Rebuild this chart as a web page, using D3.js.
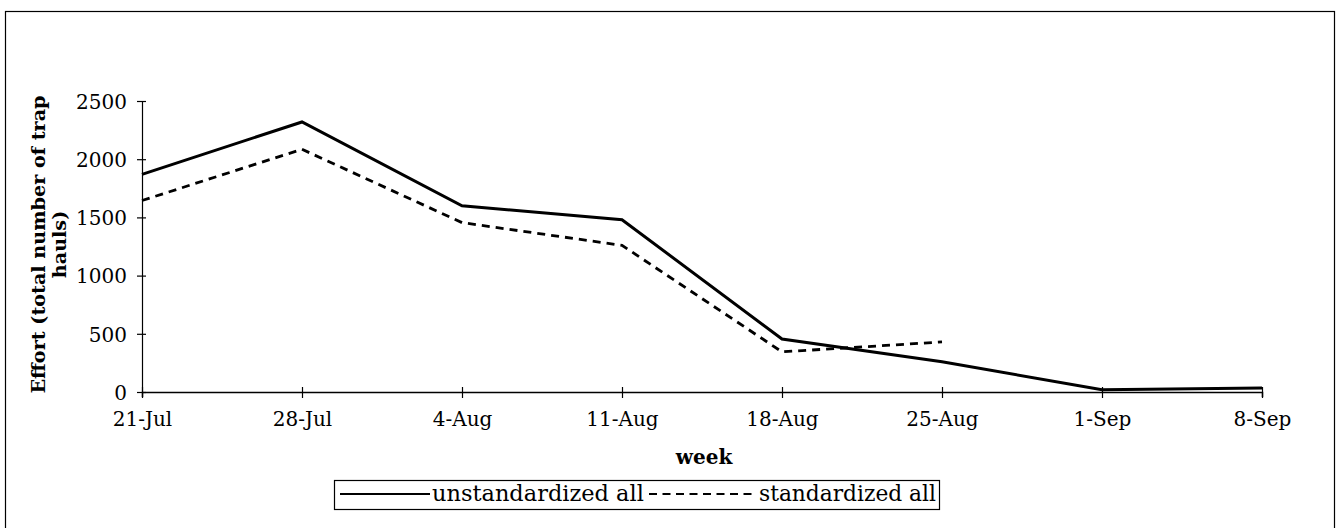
<!DOCTYPE html>
<html>
<head>
<meta charset="utf-8">
<script src="https://cdn.jsdelivr.net/npm/d3@7"></script>
<style>
  html, body { margin: 0; padding: 0; background: #fff; }
  svg { display: block; }
  text { font-family: "DejaVu Serif", "Liberation Serif", serif; fill: #000; }
</style>
</head>
<body>
<svg id="chart" width="1340" height="528"></svg>
<script>
const weeks = ["21-Jul", "28-Jul", "4-Aug", "11-Aug", "18-Aug", "25-Aug", "1-Sep", "8-Sep"];
const unstandardized = [1870, 2320, 1600, 1480, 455, 260, 20, 35];
const standardized = [1645, 2085, 1455, 1260, 345, 430, null, null];
const yTicks = [0, 500, 1000, 1500, 2000, 2500];
const seriesNames = ["unstandardized all", "standardized all"];

const svg = d3.select("#chart");
const mLeft = 142, mRight = 1262, mTop = 101, mBottom = 392;
const FONT = "DejaVu Serif, Liberation Serif, serif";

function fitWidth(sel, target) {
  const len = sel.node().getComputedTextLength();
  const fs = parseFloat(sel.attr("font-size"));
  if (len > 0) sel.attr("font-size", (fs * target / len).toFixed(2));
}

// outer frame
svg.append("rect").attr("x", 5.5).attr("y", 11.5).attr("width", 1329).attr("height", 530)
  .attr("fill", "none").attr("stroke", "#000").attr("stroke-width", 1.2);

const x = d3.scalePoint().domain(weeks).range([mLeft, mRight]);
const y = d3.scaleLinear().domain([0, 2500]).range([mBottom, mTop]);

// y axis
const gy = svg.append("g").attr("transform", `translate(${mLeft},0)`)
  .call(d3.axisLeft(y).tickValues(yTicks).tickFormat(d3.format("d")).tickSize(5).tickPadding(10));
gy.select(".domain").attr("stroke", "#000").attr("stroke-width", 1.2);
gy.selectAll(".tick line").attr("x1", -5).attr("x2", 4).attr("stroke-width", 1.2);
gy.selectAll(".tick text").attr("font-size", 20).attr("dy", "0.36em")
  .style("font-family", FONT);

// x axis
const gx = svg.append("g").attr("transform", `translate(0,${mBottom})`)
  .call(d3.axisBottom(x).tickSize(5).tickPadding(15));
gx.select(".domain").attr("stroke", "#000").attr("stroke-width", 1.5);
gx.selectAll(".tick line").attr("y1", -5).attr("y2", 6).attr("stroke-width", 1.2);
gx.selectAll(".tick text").attr("font-size", 20)
  .style("font-family", FONT);

// lines
const line = d3.line()
  .defined(d => d[1] !== null)
  .x(d => x(d[0])).y(d => y(d[1]));

svg.append("path")
  .datum(weeks.map((w, i) => [w, unstandardized[i]]))
  .attr("d", line).attr("fill", "none").attr("stroke", "#000")
  .attr("stroke-width", 3).attr("stroke-linejoin", "miter");

svg.append("path")
  .datum(weeks.map((w, i) => [w, standardized[i]]))
  .attr("d", line).attr("fill", "none").attr("stroke", "#000")
  .attr("stroke-width", 2.8).attr("stroke-dasharray", "8,6");

// axis titles
svg.append("text").attr("x", (mLeft + mRight) / 2 + 2).attr("y", 464)
  .attr("text-anchor", "middle").attr("font-size", 20).attr("font-weight", "bold")
  .text("week");

const yt = svg.append("text").attr("transform", `translate(45,${(mTop + mBottom) / 2 - 2}) rotate(-90)`)
  .attr("text-anchor", "middle").attr("font-size", 20).attr("font-weight", "bold");
const yt1 = yt.append("tspan").attr("x", 0).attr("dy", 0).text("Effort (total number of trap");
yt.append("tspan").attr("x", 0).attr("dy", 21).text("hauls)");
{
  const len = yt1.node().getComputedTextLength();
  if (len > 0) yt.attr("font-size", (20 * 298 / len).toFixed(2));
}

// legend
const lg = svg.append("g");
lg.append("rect").attr("x", 334.5).attr("y", 480.5).attr("width", 605).attr("height", 29)
  .attr("fill", "#fff").attr("stroke", "#000").attr("stroke-width", 1.2);
lg.append("line").attr("x1", 340).attr("x2", 430).attr("y1", 494).attr("y2", 494)
  .attr("stroke", "#000").attr("stroke-width", 2.2);
const lt1 = lg.append("text").attr("x", 432).attr("y", 501).attr("font-size", 20).text(seriesNames[0]);
fitWidth(lt1, 212);
lg.append("line").attr("x1", 649).attr("x2", 757).attr("y1", 494).attr("y2", 494)
  .attr("stroke", "#000").attr("stroke-width", 2.2).attr("stroke-dasharray", "8,5.5");
const lt2 = lg.append("text").attr("x", 759).attr("y", 501).attr("font-size", 20).text(seriesNames[1]);
fitWidth(lt2, 177);
</script>
</body>
</html>
